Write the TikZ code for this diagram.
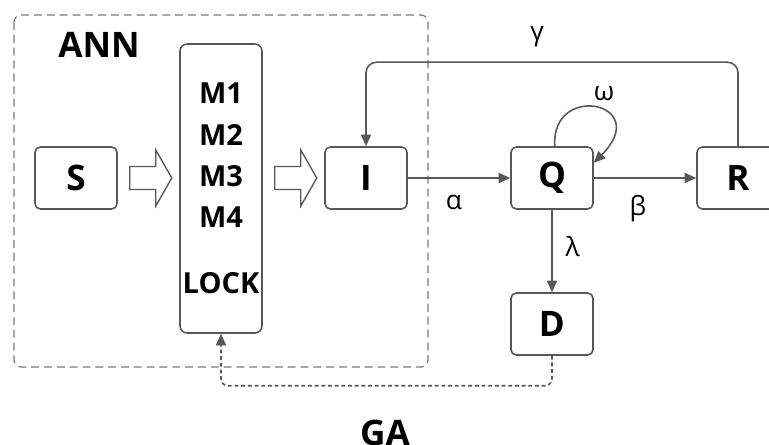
\documentclass[tikz,border=0pt]{standalone}
\usepackage{fontspec}
\setmainfont{Open Sans}
\usepackage{xcolor}
\usepackage{tikz}
\usetikzlibrary{positioning, arrows.meta}

\definecolor{linegray}{RGB}{88,88,88}

\begin{document}
\begin{tikzpicture}[x=0.02cm, y=-0.02cm,
  block/.style={draw=linegray, line width=0.9pt, rounded corners=3pt,
              minimum width=1.64cm, minimum height=1.24cm, inner sep=0pt,
              font=\fontsize{20}{24}\selectfont\bfseries},
  membox/.style={draw=linegray, line width=0.9pt, rounded corners=4pt,
              minimum width=1.64cm, minimum height=5.78cm, align=center,
              inner sep=0pt, font=\fontsize{16.5}{23.5}\selectfont\bfseries},
  hollow/.style={draw=linegray, line width=0.8pt, fill=white},
  arr/.style={-{Triangle[length=2.3mm, width=2mm]}, draw=linegray, line width=0.9pt},
  gaarr/.style={-{Triangle[length=2.3mm, width=2mm]}, draw=linegray, line width=0.9pt,
              dash pattern=on 2.2pt off 1.6pt, rounded corners=4pt},
  frame/.style={draw=linegray!80, line width=0.7pt, dash pattern=on 4.5pt off 2.8pt,
              rounded corners=4pt},
  lbl/.style={font=\fontsize{15}{18}\selectfont},
  title/.style={font=\fontsize{20}{24}\selectfont\bfseries}
]
  \useasboundingbox (0,0) rectangle (769,445);

  % ANN frame
  \draw[frame] (14,15) rectangle (428,367);
  \node[title] (ann) at (99,45) {ANN};

  % Blocks
  \node[block]  (S) at (76,178)    {S};
  \node[membox] (M) at (221,188.5) {M1\\M2\\M3\\M4\\[14pt]LOCK};
  \node[block]  (I) at (366,178)   {I};
  \node[block]  (Q) at (552,178)   {Q};
  \node[block]  (R) at (738,178)   {R};
  \node[block]  (D) at (552,324)   {D};

  % Hollow arrows
  \draw[hollow] (S.east) ++(12,-11.5) -- ++(26,0) -- ++(0,-16.5) -- ++(16,28)
    -- ++(-16,28) -- ++(0,-16.5) -- ++(-26,0) -- cycle;
  \draw[hollow] (M.east |- S.east) ++(12,-11.5) -- ++(26,0) -- ++(0,-16.5) -- ++(16,28)
    -- ++(-16,28) -- ++(0,-16.5) -- ++(-26,0) -- cycle;

  % Arrows
  \draw[arr] (I.east) -- (Q.west) node[pos=0.45, below=6pt, lbl] {α};
  \draw[arr] (Q.east) -- (R.west) node[pos=0.43, below=6pt, lbl] {β};
  \draw[arr] (Q.south) -- (D.north) node[pos=0.45, right=4pt, lbl] {λ};
  \draw[arr] (Q.85) .. controls +(-4,-65) and +(60,-60) .. (Q.20);
  \node[lbl] (omega) at (604,94) {ω};
  \draw[arr, rounded corners=6pt] (R.north) -- ++(0,-84) -| (I.north)
    node[pos=0.27, above=5pt, lbl] {γ};

  % GA feedback
  \draw[gaarr] (D.south) -- ++(0,30) -| (M.south);
  \node[title] (ga) at (385,433) {GA};

\end{tikzpicture}
\end{document}
